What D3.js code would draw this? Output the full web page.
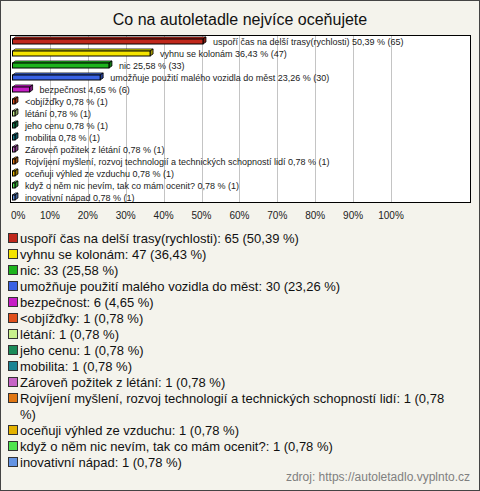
<!DOCTYPE html>
<html><head><meta charset="utf-8">
<script src="https://cdn.jsdelivr.net/npm/d3@7"></script>
<style>body{margin:0;background:#f4f3ec}svg{display:block}text{font-family:"Liberation Sans",Arial,sans-serif}</style>
</head><body><div id="c"></div>
<script>
const title = "Co na autoletadle nejvíce oceňujete";
const categories = ["uspoří čas na delší trasy(rychlosti)","vyhnu se kolonám","nic","umožňuje použití malého vozidla do měst","bezpečnost","<objížďky","létání","jeho cenu","mobilita","Zároveň požitek z létání","Rojvíjení myšlení, rozvoj technologií a technických schopností lidí","oceňuji výhled ze vzduchu","když o něm nic nevím, tak co mám ocenit?","inovativní nápad"];
const counts = [65,47,33,30,6,1,1,1,1,1,1,1,1,1];
const percents = [50.39,36.43,25.58,23.26,4.65,0.78,0.78,0.78,0.78,0.78,0.78,0.78,0.78,0.78];
const colors = ["#c0281c","#f5e400","#1db31d","#3a62e4","#c61ec6","#e0501c","#c8f08c","#1a8a58","#1a8494","#c664c6","#e07612","#e4b200","#4ee44e","#6494e4"];
const ticks = [0,10,20,30,40,50,60,70,80,90,100];
const source = "zdroj: https://autoletadlo.vyplnto.cz";

const W=480,H=491;
const svg=d3.select("#c").append("svg").attr("width",W).attr("height",H);
svg.append("rect").attr("x",0.5).attr("y",0.5).attr("width",W-1).attr("height",H-1).attr("fill","#f4f3ec").attr("stroke","#444");
svg.append("text").attr("x",240).attr("y",25).attr("text-anchor","middle").attr("font-size",16).attr("fill","#111").text(title);

const box={x0:10.5,x1:470.5,y0:35.5,y1:202.5};
svg.append("rect").attr("x",box.x0).attr("y",box.y0).attr("width",box.x1-box.x0).attr("height",box.y1-box.y0).attr("fill","#fff");
const x=d3.scaleLinear().domain([0,100]).range([12,391]);
const y=d3.scaleBand().domain(d3.range(categories.length)).range([35.5,203.5]);
const g=svg.append("g");
g.selectAll("line.grid").data(ticks.slice(1)).join("line")
 .attr("x1",d=>Math.round(x(d))+0.5).attr("x2",d=>Math.round(x(d))+0.5)
 .attr("y1",box.y0).attr("y2",box.y1).attr("stroke","#c4c4c4");
svg.append("rect").attr("x",box.x0).attr("y",box.y0).attr("width",box.x1-box.x0).attr("height",box.y1-box.y0).attr("fill","none").attr("stroke","#000");

const fmt=v=>d3.format(".2f")(v).replace(".",",");
const rows=g.selectAll("g.row").data(categories.map((c,i)=>({c,i,v:percents[i],n:counts[i]}))).join("g");
rows.each(function(d){
  const s=d3.select(this);
  const cy=y(d.i)+y.bandwidth()/2+0.5;
  const x0=12.5, x1=Math.max(x(d.v),x0+2);
  const top=cy-3, h=5, dx=3, dy=2;
  const dark=d3.color(colors[d.i]).darker(1.2);
  s.append("polygon").attr("points",[[x0,top],[x0+dx,top-dy],[x1+dx,top-dy],[x1,top]].join(" ")).attr("fill",d3.color(colors[d.i]).brighter(0.6)).attr("stroke","#000").attr("stroke-width",0.8);
  s.append("polygon").attr("points",[[x1,top],[x1+dx,top-dy],[x1+dx,top+h-dy],[x1,top+h]].join(" ")).attr("fill",dark).attr("stroke","#000").attr("stroke-width",0.8);
  s.append("rect").attr("x",x0).attr("y",top).attr("width",x1-x0).attr("height",h).attr("fill",colors[d.i]).attr("stroke","#000").attr("stroke-width",1);
  s.append("text").attr("x",x1+10).attr("y",cy).attr("dy","0.35em").attr("font-size",9).attr("fill","#222")
   .text(`${d.c} ${fmt(d.v)} % (${d.n})`);
});

svg.selectAll("text.tick").data(ticks).join("text")
 .attr("x",d=>d===0?11:x(d)).attr("y",219).attr("text-anchor",d=>d===0?"start":"middle")
 .attr("font-size",10).attr("fill","#222").text(d=>d+"%");

let ly=238;
const maxW=440;
categories.forEach((c,i)=>{
  svg.append("rect").attr("x",8.5).attr("y",ly-4.5).attr("width",9).attr("height",9).attr("fill",colors[i]).attr("stroke","#333");
  const full=`${c}: ${counts[i]} (${fmt(percents[i])} %)`;
  const t=svg.append("text").attr("x",20).attr("y",ly).attr("dy","0.35em").attr("font-size",13).attr("fill","#111").text(full);
  if(t.node().getComputedTextLength()>maxW){
    const words=full.split(" ");let line=[];let k=0;
    for(k=0;k<words.length;k++){line.push(words[k]);t.text(line.join(" "));if(t.node().getComputedTextLength()>maxW){line.pop();break;}}
    t.text(line.join(" "));
    ly+=16;
    svg.append("text").attr("x",20).attr("y",ly).attr("dy","0.35em").attr("font-size",13).attr("fill","#111").text(words.slice(k).join(" "));
  }
  ly+=16;
});
svg.append("text").attr("x",470).attr("y",481).attr("text-anchor","end").attr("font-size",12).attr("fill","#808080").text(source);
</script></body></html>
